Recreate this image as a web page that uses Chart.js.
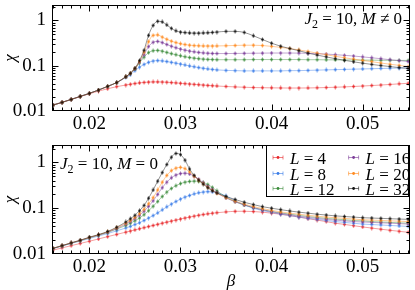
<!DOCTYPE html>
<html>
<head>
<meta charset="utf-8">
<script src="https://cdn.jsdelivr.net/npm/chart.js@4.4.0/dist/chart.umd.min.js"></script>
<style>
  html, body { margin: 0; padding: 0; background: #fff; }
  #wrap { position: relative; width: 415px; height: 290px; }
  #wrap canvas { position: absolute; left: 0; }
  #c1 { top: 0; }
  #c2 { top: 140px; }
</style>
</head>
<body>
<div id="wrap">
  <canvas id="c1" width="415" height="140"></canvas>
  <canvas id="c2" width="415" height="150"></canvas>
</div>
<script>
// ── Data ──────────────────────────────────────────────────────
const beta = [0.016,0.017,0.018,0.019,0.020,0.021,0.022,0.023,0.024,
  0.0245,0.025,0.0255,0.026,0.0265,0.027,0.0275,0.028,0.0285,0.029,0.0295,0.030,0.0305,0.031,0.0315,0.032,0.0325,0.033,0.0335,0.034,
  0.035,0.036,0.037,0.038,0.039,0.040,0.041,0.042,0.043,0.044,0.045,0.046,0.047,0.048,0.049,0.050,0.051,0.052,0.053,0.054,0.055];

const sizes  = [4, 8, 12, 16, 20, 32];
const colors = ["#e8282b", "#3b7de8", "#3c8c3c", "#7b3c98", "#ff8a1f", "#111111"];

// J2 = 10, M != 0  (upper panel)
const chiM_L4  = [0.0135,0.0155,0.018,0.0208,0.024,0.0275,0.031,0.0345,0.0375,
  0.039,0.0405,0.0418,0.0428,0.0435,0.044,0.044,0.0437,0.0432,0.0425,0.0418,0.041,0.0402,0.0395,0.0388,0.0381,0.0374,0.0368,0.0362,0.0357,
  0.0348,0.0341,0.0335,0.033,0.0327,0.0325,0.0323,0.0322,0.0322,0.0323,0.0326,0.033,0.0335,0.0341,0.0348,0.0356,0.0365,0.0375,0.0386,0.0398,0.041];
const chiM_L8  = [0.0135,0.0155,0.018,0.021,0.0245,0.029,0.035,0.0425,0.055,
  0.063,0.078,0.093,0.107,0.119,0.127,0.13,0.128,0.124,0.119,0.114,0.109,0.104,0.099,0.095,0.091,0.088,0.085,0.083,0.081,
  0.079,0.078,0.077,0.077,0.077,0.077,0.077,0.078,0.078,0.079,0.08,0.081,0.082,0.083,0.084,0.085,0.086,0.087,0.088,0.089,0.09];
const chiM_L12 = [0.0135,0.0155,0.018,0.021,0.0245,0.029,0.035,0.0425,0.057,
  0.068,0.085,0.115,0.155,0.195,0.215,0.218,0.21,0.197,0.185,0.175,0.166,0.158,0.152,0.147,0.143,0.14,0.138,0.137,0.136,
  0.136,0.136,0.136,0.137,0.137,0.137,0.137,0.137,0.137,0.136,0.136,0.135,0.135,0.134,0.134,0.133,0.133,0.132,0.132,0.131,0.131];
const chiM_L16 = [0.0135,0.0155,0.018,0.021,0.0245,0.029,0.035,0.0425,0.057,
  0.068,0.086,0.12,0.175,0.265,0.33,0.345,0.325,0.295,0.27,0.25,0.234,0.221,0.211,0.203,0.197,0.192,0.189,0.187,0.186,
  0.186,0.187,0.188,0.189,0.19,0.191,0.191,0.191,0.19,0.188,0.185,0.181,0.176,0.17,0.164,0.157,0.15,0.143,0.136,0.13,0.124];
const chiM_L20 = [0.0135,0.0155,0.018,0.021,0.0245,0.029,0.035,0.0425,0.057,
  0.068,0.087,0.125,0.2,0.34,0.47,0.48,0.43,0.385,0.35,0.325,0.307,0.294,0.285,0.279,0.276,0.274,0.273,0.273,0.274,
  0.277,0.281,0.284,0.284,0.28,0.268,0.255,0.24,0.224,0.207,0.19,0.175,0.162,0.15,0.14,0.131,0.123,0.115,0.108,0.102,0.096];
const chiM_L32 = [0.0135,0.0155,0.018,0.021,0.0245,0.029,0.035,0.0425,0.057,
  0.068,0.088,0.13,0.22,0.47,0.78,0.96,0.93,0.8,0.67,0.59,0.555,0.54,0.53,0.525,0.525,0.53,0.535,0.545,0.555,
  0.575,0.575,0.545,0.46,0.38,0.315,0.27,0.24,0.215,0.19,0.172,0.157,0.143,0.132,0.122,0.114,0.107,0.101,0.096,0.091,0.087];

// J2 = 10, M = 0  (lower panel)
const chi0_L4  = [0.0121,0.0136,0.0152,0.017,0.019,0.0213,0.0239,0.0268,0.03,
  0.0317,0.0336,0.0355,0.0376,0.0398,0.042,0.0444,0.047,0.0496,0.0523,0.055,0.058,0.061,0.064,0.067,0.07,0.0728,0.0753,0.0776,0.0797,
  0.083,0.0855,0.0858,0.0845,0.082,0.078,0.074,0.069,0.064,0.059,0.055,0.051,0.047,0.0443,0.0415,0.039,0.0368,0.0348,0.033,0.0313,0.0298];
const chi0_L8  = [0.0131,0.0149,0.017,0.0192,0.0218,0.0247,0.028,0.032,0.037,
  0.04,0.044,0.048,0.054,0.061,0.069,0.079,0.092,0.107,0.123,0.14,0.158,0.175,0.19,0.205,0.217,0.225,0.23,0.228,0.22,
  0.185,0.145,0.118,0.1,0.089,0.081,0.074,0.069,0.064,0.06,0.057,0.054,0.051,0.049,0.047,0.045,0.044,0.043,0.042,0.041,0.04];
const chi0_L12 = [0.0132,0.0151,0.0172,0.0196,0.0225,0.0257,0.0295,0.035,0.042,
  0.047,0.053,0.061,0.072,0.088,0.11,0.14,0.18,0.225,0.27,0.31,0.345,0.37,0.385,0.39,0.385,0.365,0.33,0.285,0.24,
  0.175,0.14,0.118,0.103,0.093,0.085,0.079,0.074,0.07,0.066,0.063,0.06,0.058,0.056,0.054,0.053,0.051,0.05,0.049,0.048,0.047];
const chi0_L16 = [0.0133,0.0152,0.0174,0.0198,0.0228,0.026,0.03,0.036,0.045,
  0.051,0.059,0.07,0.086,0.11,0.145,0.2,0.28,0.37,0.46,0.53,0.57,0.58,0.56,0.5,0.43,0.36,0.3,0.255,0.218,
  0.168,0.138,0.118,0.103,0.092,0.084,0.077,0.072,0.067,0.063,0.06,0.057,0.055,0.053,0.051,0.05,0.049,0.048,0.047,0.046,0.045];
const chi0_L20 = [0.0133,0.0152,0.0175,0.0199,0.023,0.0262,0.0305,0.0375,0.047,
  0.054,0.063,0.076,0.095,0.125,0.17,0.25,0.37,0.52,0.66,0.75,0.78,0.73,0.62,0.5,0.41,0.34,0.285,0.245,0.212,
  0.17,0.143,0.123,0.109,0.098,0.09,0.083,0.078,0.074,0.07,0.067,0.064,0.062,0.06,0.058,0.056,0.055,0.054,0.053,0.052,0.051];
const chi0_L32 = [0.0133,0.0152,0.0175,0.02,0.0233,0.0265,0.031,0.0385,0.05,
  0.059,0.07,0.088,0.115,0.165,0.25,0.39,0.6,0.9,1.3,1.57,1.48,1.12,0.72,0.52,0.41,0.335,0.28,0.24,0.215,
  0.18,0.155,0.135,0.12,0.108,0.1,0.093,0.087,0.082,0.078,0.074,0.071,0.068,0.066,0.064,0.062,0.061,0.06,0.059,0.058,0.057];

const xTicks = [0.02, 0.03, 0.04, 0.05];
const yTicks = [0.01, 0.1, 1];

// ── Helpers ───────────────────────────────────────────────────
const SERIF = '"Liberation Serif", "DejaVu Serif", serif';

function fade(hex, a) {
  const n = parseInt(hex.slice(1), 16);
  return `rgba(${n >> 16}, ${(n >> 8) & 255}, ${n & 255}, ${a})`;
}

// kleiner Marker: Punkt + blasser Fehlerbalken
function marker(color) {
  const c = document.createElement("canvas");
  c.width = 5; c.height = 5;
  const g = c.getContext("2d");
  g.fillStyle = color;
  g.globalAlpha = 0.35;
  g.fillRect(2, 0, 1, 5);
  g.globalAlpha = 1;
  g.beginPath(); g.arc(2.5, 2.5, 1.25, 0, Math.PI * 2); g.fill();
  return c;
}

function drawMath(ctx, parts, x, y, align, size) {
  const fontFor = p => (p.it ? "italic " : "") + (p.sub ? Math.round(size * 0.7) : size) + "px " + SERIF;
  let w = 0;
  parts.forEach(p => { ctx.font = fontFor(p); w += ctx.measureText(p.t).width; });
  let cx = align === "right" ? x - w : x;
  ctx.textAlign = "left";
  ctx.textBaseline = "alphabetic";
  parts.forEach(p => {
    ctx.font = fontFor(p);
    ctx.fillText(p.t, cx, p.sub ? y + size * 0.22 : y);
    cx += ctx.measureText(p.t).width;
  });
}

function makeDatasets(series) {
  return series.map((vals, i) => ({
    label: "L = " + sizes[i],
    data: vals.map((v, k) => ({ x: beta[k], y: v })),
    borderColor: fade(colors[i], 0.45),
    borderWidth: 1,
    pointStyle: marker(colors[i]),
    pointRadius: 2.5,
    cubicInterpolationMode: "monotone",
    order: sizes.length - i,
    fill: false
  }));
}

// ── Rahmen + Ticks nach innen ─────────────────────────────────
const frameTicks = {
  id: "frameTicks",
  afterDatasetsDraw(chart) {
    const { ctx, chartArea: a, scales: { x, y } } = chart;
    const L = a.left + 0.5, R = a.right - 0.5, T = a.top + 0.5, B = a.bottom - 0.5;
    ctx.save();
    ctx.strokeStyle = "#000";
    ctx.lineWidth = 1;
    ctx.beginPath();
    for (let k = 15; k <= 56; k++) {
      const px = Math.round(x.getPixelForValue(k / 1000)) + 0.5;
      if (px <= L || px >= R) continue;
      const len = k % 10 === 0 ? 6 : 3;
      ctx.moveTo(px, B); ctx.lineTo(px, B - len);
      ctx.moveTo(px, T); ctx.lineTo(px, T + len);
    }
    for (let e = -2; e <= 0; e++) {
      for (let m = 1; m <= 9; m++) {
        const v = m * Math.pow(10, e);
        const py = Math.round(y.getPixelForValue(v)) + 0.5;
        if (py <= T || py >= B) continue;
        const len = m === 1 ? 6 : 3;
        ctx.moveTo(L, py); ctx.lineTo(L + len, py);
        ctx.moveTo(R, py); ctx.lineTo(R - len, py);
      }
    }
    ctx.stroke();
    ctx.strokeRect(L, T, R - L, B - T);
    ctx.restore();
  }
};

// ── Beschriftung im Panel ─────────────────────────────────────
function labelPlugin(parts, where) {
  return {
    id: "panelLabel",
    afterDraw(chart) {
      const { ctx, chartArea: a } = chart;
      ctx.save();
      ctx.fillStyle = "#000";
      if (where === "right") drawMath(ctx, parts, a.right - 8, a.top + 19, "right", 17);
      else drawMath(ctx, parts, a.left + 8, a.top + 24, "left", 17);
      ctx.restore();
    }
  };
}

// ── Legende (2 Spalten) ───────────────────────────────────────
const legendBox = {
  id: "legendBox",
  afterDraw(chart) {
    const { ctx, chartArea: a } = chart;
    const left = 266, top = a.top, right = a.right - 1, bottom = 57;
    ctx.save();
    ctx.fillStyle = "#fff";
    ctx.fillRect(left, top, right - left, bottom - top);
    ctx.strokeStyle = "#000";
    ctx.lineWidth = 1;
    ctx.strokeRect(left + 0.5, top + 0.5, right - left - 1, bottom - top - 1);
    sizes.forEach((L, i) => {
      const col = Math.floor(i / 3), row = i % 3;
      const mx = left + 12 + col * 75.6;
      const my = Math.round(top + 12.3 + row * 15.3) + 0.5;
      ctx.strokeStyle = fade(colors[i], 0.6);
      ctx.beginPath();
      ctx.moveTo(mx - 5, my); ctx.lineTo(mx + 5, my);
      ctx.moveTo(mx - 5, my - 2); ctx.lineTo(mx - 5, my + 2);
      ctx.moveTo(mx + 5, my - 2); ctx.lineTo(mx + 5, my + 2);
      ctx.stroke();
      ctx.fillStyle = colors[i];
      ctx.beginPath(); ctx.arc(mx, my, 1.4, 0, Math.PI * 2); ctx.fill();
      ctx.fillStyle = "#000";
      drawMath(ctx, [{ t: "L", it: true }, { t: " = " + L }], mx + 12, my + 6, "left", 17);
    });
    ctx.restore();
  }
};

// ── Achsen ────────────────────────────────────────────────────
function scalesCfg(ymax, xHeight, withXTitle) {
  const tickFont = { family: SERIF, size: 19, lineHeight: 1.1 };
  return {
    x: {
      type: "linear", min: 0.0159, max: 0.0552,
      afterBuildTicks: s => { s.ticks = xTicks.map(v => ({ value: v })); },
      afterFit: s => { s.height = xHeight; s.paddingLeft = 0; s.paddingRight = 0; },
      grid: { display: false, drawTicks: false },
      border: { display: false },
      ticks: { font: tickFont, color: "#000", padding: 3, maxRotation: 0, autoSkip: false,
               callback: v => v.toFixed(2) },
      title: { display: withXTitle, text: "β", color: "#000", padding: 0,
               font: { family: SERIF, size: 17, style: "italic", lineHeight: 1 } }
    },
    y: {
      type: "logarithmic", min: 0.01, max: ymax,
      afterBuildTicks: s => { s.ticks = yTicks.map(v => ({ value: v })); },
      afterFit: s => { s.width = 52; s.paddingTop = 0; s.paddingBottom = 0; },
      grid: { display: false, drawTicks: false },
      border: { display: false },
      ticks: { font: tickFont, color: "#000", padding: 6, autoSkip: false, callback: v => String(v) },
      title: { display: true, text: "χ", color: "#000", padding: 0,
               font: { family: SERIF, size: 17, style: "italic", lineHeight: 1.2 } }
    }
  };
}

function makeChart(id, series, ymax, xHeight, withXTitle, plugins) {
  return new Chart(document.getElementById(id), {
    type: "line",
    data: { datasets: makeDatasets(series) },
    options: {
      responsive: false,
      animation: false,
      devicePixelRatio: 1,
      layout: { padding: { left: 0, right: 2, top: 2, bottom: 0 } },
      plugins: { legend: { display: false }, tooltip: { enabled: false } },
      scales: scalesCfg(ymax, xHeight, withXTitle)
    },
    plugins: [frameTicks].concat(plugins)
  });
}

makeChart("c1", [chiM_L4, chiM_L8, chiM_L12, chiM_L16, chiM_L20, chiM_L32], 2.2, 29, false,
  [labelPlugin([{ t: "J", it: true }, { t: "2", sub: true }, { t: " = 10, " }, { t: "M", it: true }, { t: " ≠ 0" }], "right")]);

makeChart("c2", [chi0_L4, chi0_L8, chi0_L12, chi0_L16, chi0_L20, chi0_L32], 2.4, 36, true,
  [labelPlugin([{ t: "J", it: true }, { t: "2", sub: true }, { t: " = 10, " }, { t: "M", it: true }, { t: " = 0" }], "left"), legendBox]);
</script>
</body>
</html>
